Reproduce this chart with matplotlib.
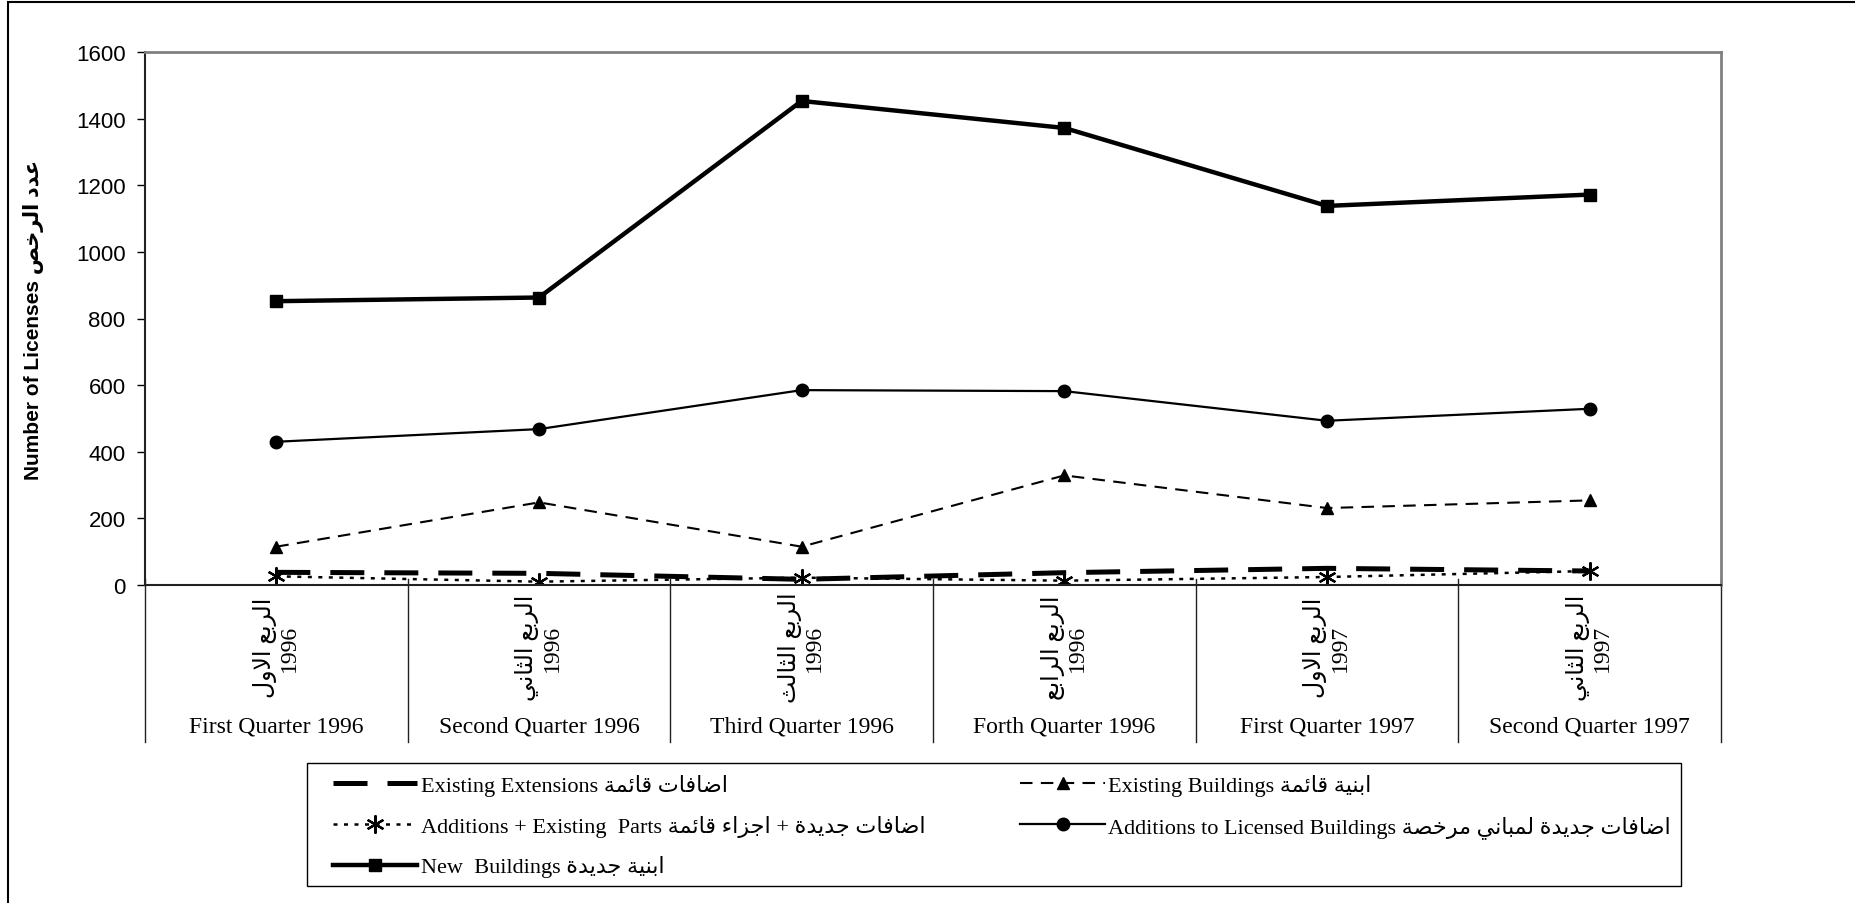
import matplotlib
matplotlib.use("Agg")
import matplotlib.pyplot as plt
from matplotlib.patches import Rectangle
import numpy as np

# --- data ---
quarters_en = ["First Quarter 1996", "Second Quarter 1996", "Third Quarter 1996",
               "Forth Quarter 1996", "First Quarter 1997", "Second Quarter 1997"]
quarters_ar = ["الربع الاول", "الربع الثاني", "الربع الثالث",
               "الربع الرابع", "الربع الاول", "الربع الثاني"]
years = ["1996", "1996", "1996", "1996", "1997", "1997"]

existing_extensions = [38, 35, 17, 37, 50, 42]
existing_buildings = [115, 248, 115, 329, 231, 254]
additions_existing_parts = [26, 10, 22, 13, 24, 42]
additions_licensed = [430, 468, 585, 582, 493, 529]
new_buildings = [852, 863, 1453, 1372, 1138, 1172]

yticks = [0, 200, 400, 600, 800, 1000, 1200, 1400, 1600]

# arabic presentation forms: isolated, final, initial, medial
FORMS = {
    'ء': ('\uFE80',),
    'ئ': ('\uFE89', '\uFE8A', '\uFE8B', '\uFE8C'),
    'ا': ('\uFE8D', '\uFE8E'),
    'ب': ('\uFE8F', '\uFE90', '\uFE91', '\uFE92'),
    'ة': ('\uFE93', '\uFE94'),
    'ت': ('\uFE95', '\uFE96', '\uFE97', '\uFE98'),
    'ث': ('\uFE99', '\uFE9A', '\uFE9B', '\uFE9C'),
    'ج': ('\uFE9D', '\uFE9E', '\uFE9F', '\uFEA0'),
    'خ': ('\uFEA5', '\uFEA6', '\uFEA7', '\uFEA8'),
    'د': ('\uFEA9', '\uFEAA'),
    'ر': ('\uFEAD', '\uFEAE'),
    'ز': ('\uFEAF', '\uFEB0'),
    'ص': ('\uFEB9', '\uFEBA', '\uFEBB', '\uFEBC'),
    'ض': ('\uFEBD', '\uFEBE', '\uFEBF', '\uFEC0'),
    'ع': ('\uFEC9', '\uFECA', '\uFECB', '\uFECC'),
    'ف': ('\uFED1', '\uFED2', '\uFED3', '\uFED4'),
    'ق': ('\uFED5', '\uFED6', '\uFED7', '\uFED8'),
    'ل': ('\uFEDD', '\uFEDE', '\uFEDF', '\uFEE0'),
    'م': ('\uFEE1', '\uFEE2', '\uFEE3', '\uFEE4'),
    'ن': ('\uFEE5', '\uFEE6', '\uFEE7', '\uFEE8'),
    'و': ('\uFEED', '\uFEEE'),
    'ي': ('\uFEF1', '\uFEF2', '\uFEF3', '\uFEF4'),
}


def ar(s):
    # join letters and put them in visual (left to right) order
    units = []
    i = 0
    while i < len(s):
        c = s[i]
        if c == 'ل' and i + 1 < len(s) and s[i + 1] == 'ا':
            units.append(('\uFEFB', '\uFEFC'))
            i += 2
        elif c in FORMS:
            units.append(FORMS[c])
            i += 1
        else:
            units.append(c)
            i += 1
    res = []
    for k, u in enumerate(units):
        if isinstance(u, str):
            res.append(u)
            continue
        if len(u) == 1:
            res.append(u[0])
            continue
        prev = units[k - 1] if k > 0 else None
        nxt = units[k + 1] if k + 1 < len(units) else None
        jp = isinstance(prev, tuple) and len(prev) == 4
        jn = len(u) == 4 and isinstance(nxt, tuple)
        if jp and jn:
            res.append(u[3])
        elif jp:
            res.append(u[1])
        elif jn:
            res.append(u[2])
        else:
            res.append(u[0])
    return ''.join(res[::-1])


SERIF = ['Liberation Serif', 'DejaVu Sans']
SANS = ['Liberation Sans', 'DejaVu Sans']
plt.rcParams['font.family'] = SANS

W, H = 1856, 904
fig = plt.figure(figsize=(W / 100, H / 100), dpi=100)

# outer chart frame (cut off at right and bottom)
fig.patches.append(Rectangle((8 / W, -0.1), 1.2, 1.1 - 3 / H, fill=False,
                             edgecolor='black', lw=1.5, transform=fig.transFigure))
# legend box
fig.patches.append(Rectangle((307 / W, 1 - 887 / H), (1681 - 307) / W, (887 - 764) / H,
                             fill=False, edgecolor='black', lw=1,
                             transform=fig.transFigure))

x0, x1, ytop, ybot = 145, 1721, 53, 586
ax = fig.add_axes([x0 / W, 1 - ybot / H, (x1 - x0) / W, (ybot - ytop) / H])
x = np.arange(len(quarters_en))

l_ee, = ax.plot(x, existing_extensions, color='black', lw=3.6, dashes=(6.8, 4.0),
                label="Existing Extensions " + ar("اضافات قائمة"), zorder=3)
l_eb, = ax.plot(x, existing_buildings, color='black', lw=1.5, dashes=(6.0, 4.0),
                marker='^', ms=9, label="Existing Buildings " + ar("ابنية قائمة"), zorder=3)
l_aep, = ax.plot(x, additions_existing_parts, color='black', lw=1.8, dashes=(1.6, 2.6),
                 marker=(6, 2, 0), ms=13, mew=1.6,
                 label="Additions + Existing  Parts " + ar("اضافات جديدة + اجزاء قائمة"),
                 zorder=2)
l_al, = ax.plot(x, additions_licensed, color='black', lw=1.6, marker='o', ms=9,
                label="Additions to Licensed Buildings " + ar("اضافات جديدة لمباني مرخصة"),
                zorder=3)
l_nb, = ax.plot(x, new_buildings, color='black', lw=3.2, marker='s', ms=8,
                label="New  Buildings " + ar("ابنية جديدة"), zorder=4)

ax.set_xlim(-0.5, len(x) - 0.5)
ax.set_ylim(0, 1600)
ax.set_yticks(yticks)
ax.set_yticklabels([str(v) for v in yticks], fontsize=16)
ax.tick_params(axis='y', direction='out', length=6, width=1, pad=8)
ax.set_xticks([])

for side in ['top', 'right']:
    ax.spines[side].set_color('#808080')
    ax.spines[side].set_linewidth(2)
ax.spines['left'].set_color('#222222')
ax.spines['left'].set_linewidth(1.5)
ax.spines['bottom'].set_color('#222222')
ax.spines['bottom'].set_linewidth(1.5)

ax.set_ylabel("Number of Licenses " + ar("عدد الرخص"), fontsize=15, fontweight='bold',
              family=SANS, labelpad=0)
ax.yaxis.set_label_coords((44 - x0) / (x1 - x0), 0.5)

# category table below the axis
tr = ax.get_xaxis_transform()
hpx = ybot - ytop
ybottom_line = -(743 - ybot) / hpx
for b in np.arange(-0.5, len(x), 1.0):
    ax.plot([b, b], [0.012, ybottom_line], color='#222222', lw=1,
            transform=tr, clip_on=False)
for i in range(len(x)):
    ax.text(x[i], -(648 - ybot) / hpx, ar(quarters_ar[i]) + "\n" + years[i],
            transform=tr, rotation=90, ha='center', va='center',
            multialignment='center', fontsize=17, family=SERIF, linespacing=1.15)
    ax.text(x[i], -(727 - ybot) / hpx, quarters_en[i], transform=tr,
            ha='center', va='center', fontsize=17, family=SERIF)

# legend: column-wise order gives the row layout of the reference
handles = [l_ee, l_aep, l_nb, l_eb, l_al]
leg = ax.legend(handles=handles, labels=[h.get_label() for h in handles], ncol=2,
                loc='upper left', mode='expand',
                bbox_to_anchor=(333 / W, 1 - 784 / H, (1671 - 333) / W, 0.01),
                bbox_transform=fig.transFigure, borderaxespad=0, borderpad=0,
                frameon=False, prop={'family': SERIF, 'size': 16},
                handlelength=3.8, handletextpad=0.15, labelspacing=0.84)

fig.savefig("out.png", dpi=100)
